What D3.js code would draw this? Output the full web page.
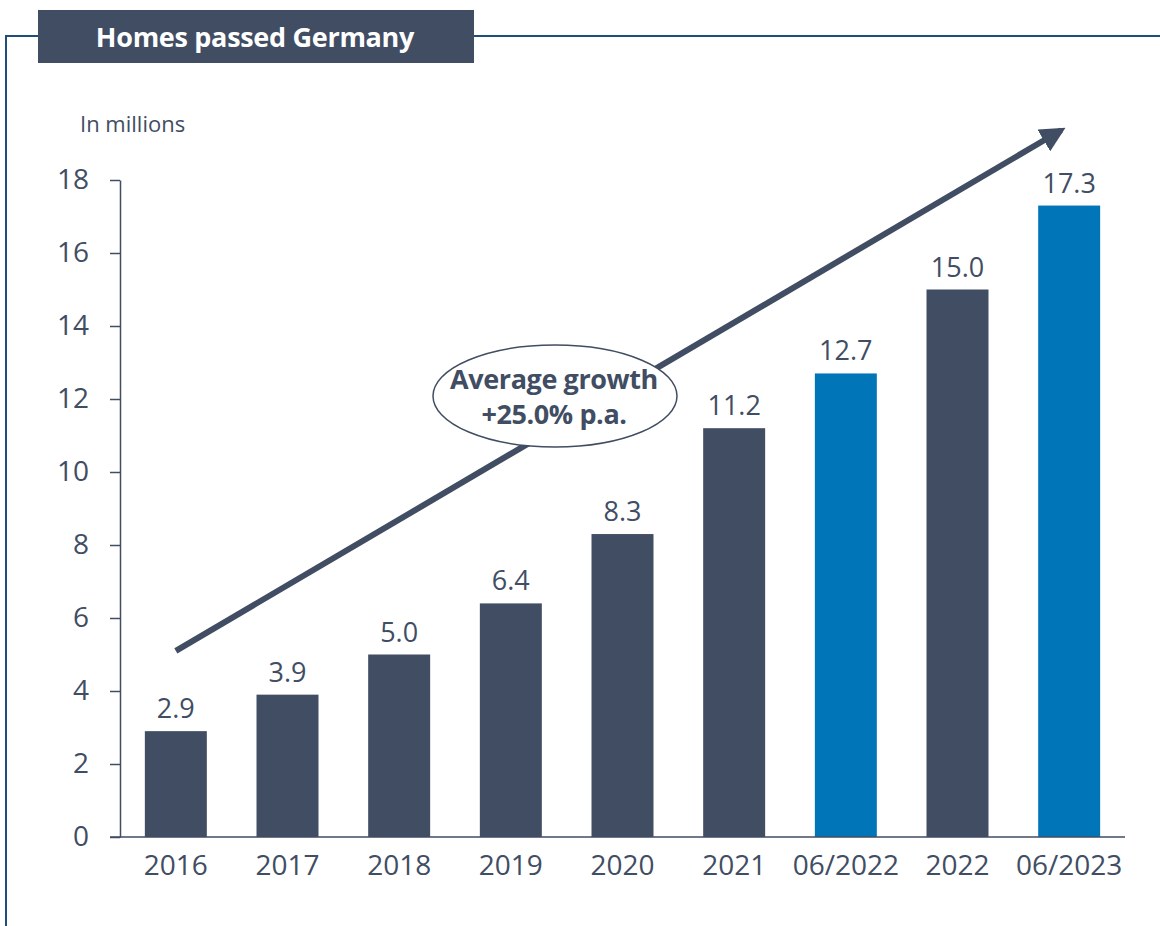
<!DOCTYPE html>
<html>
<head>
<meta charset="utf-8">
<script src="https://cdn.jsdelivr.net/npm/d3@7"></script>
<style>
html,body{margin:0;padding:0;background:#fff;}
svg{display:block;font-family:"Open Sans",Lato,sans-serif;}
</style>
</head>
<body>
<svg id="chart" width="1160" height="926"></svg>
<script>
const categories = ["2016","2017","2018","2019","2020","2021","06/2022","2022","06/2023"];
const values = [2.9,3.9,5.0,6.4,8.3,11.2,12.7,15.0,17.3];
const highlight = [false,false,false,false,false,false,true,false,true];
const yTicks = [0,2,4,6,8,10,12,14,16,18];
const title = "Homes passed Germany";
const unitLabel = "In millions";
const growthText = ["Average growth","+25.0% p.a."];
const arrowFrom = {cat:"2016", v:5.1};
const arrowTo = {cat:"06/2023", v:19.5};

const dark = "#414d63", blue = "#0075b8", frame = "#1f4e79";
const FONT = "'Open Sans',Lato,sans-serif";
const svg = d3.select("#chart");

const x = d3.scaleBand().domain(categories).range([120,1125]).paddingInner(0.445).paddingOuter(0.2225);
const y = d3.scaleLinear().domain([0,18]).range([837,180]);

// frame
svg.append("line").attr("x1",6).attr("x2",1160).attr("y1",36).attr("y2",36).attr("stroke",frame).attr("stroke-width",2);
svg.append("line").attr("x1",6).attr("x2",6).attr("y1",35).attr("y2",926).attr("stroke",frame).attr("stroke-width",2);
svg.append("rect").attr("x",38).attr("y",10).attr("width",436).attr("height",53).attr("fill",dark);
svg.append("text").attr("x",255).attr("y",47).attr("text-anchor","middle").attr("fill","#fff")
  .attr("font-size",27).attr("font-weight","bold").attr("letter-spacing",-0.3).text(title);
svg.append("text").attr("x",80).attr("y",132).attr("fill",dark).attr("font-size",22).text(unitLabel);

// bars
svg.append("g").selectAll("rect").data(values).join("rect")
  .attr("x",(d,i)=>x(categories[i])).attr("width",x.bandwidth())
  .attr("y",d=>y(d)).attr("height",d=>y(0)-y(d))
  .attr("fill",(d,i)=>highlight[i]?blue:dark);
svg.append("g").selectAll("text").data(values).join("text")
  .attr("x",(d,i)=>x(categories[i])+x.bandwidth()/2).attr("y",d=>y(d)-13)
  .attr("text-anchor","middle").attr("fill",dark).attr("font-size",27)
  .text(d=>d.toFixed(1));

// y axis
const yAxis = svg.append("g").attr("transform","translate(120,0)")
  .call(d3.axisLeft(y).tickValues(yTicks).tickSize(10).tickPadding(21).tickSizeOuter(0));
yAxis.select(".domain").attr("stroke",dark).attr("stroke-width",1.5);
yAxis.selectAll(".tick line").attr("stroke",dark).attr("stroke-width",1.5);
yAxis.selectAll(".tick text").attr("fill",dark).attr("font-size",28).attr("font-family",FONT);

// x axis
const xAxis = svg.append("g").attr("transform","translate(0,837)")
  .call(d3.axisBottom(x).tickSize(0).tickPadding(18));
xAxis.select(".domain").attr("stroke",dark).attr("stroke-width",1.5).attr("d","M110,0H1125");
xAxis.selectAll(".tick text").attr("fill",dark).attr("font-size",28).attr("font-family",FONT);

// arrow
const defs = svg.append("defs");
defs.append("marker").attr("id","ah").attr("viewBox","0 0 10 10").attr("refX",8).attr("refY",5)
  .attr("markerWidth",4.2).attr("markerHeight",4.2).attr("orient","auto").attr("markerUnits","strokeWidth")
  .append("path").attr("d","M0,0L10,5L0,10z").attr("fill",dark);
const ax1 = x(arrowFrom.cat)+x.bandwidth()/2, ay1 = y(arrowFrom.v);
const ax2 = x(arrowTo.cat)+x.bandwidth()/2, ay2 = y(arrowTo.v);
svg.append("line").attr("x1",ax1).attr("y1",ay1).attr("x2",ax2-8).attr("y2",ay2+5)
  .attr("stroke",dark).attr("stroke-width",6).attr("marker-end","url(#ah)");

// ellipse annotation
svg.append("ellipse").attr("cx",555).attr("cy",396).attr("rx",122).attr("ry",51)
  .attr("fill","#fff").attr("stroke",dark).attr("stroke-width",1.5);
svg.append("text").attr("x",554).attr("y",389).attr("text-anchor","middle").attr("fill",dark)
  .attr("font-size",27).attr("font-weight","bold").attr("letter-spacing",-0.4).text(growthText[0]);
svg.append("text").attr("x",554).attr("y",424).attr("text-anchor","middle").attr("fill",dark)
  .attr("font-size",27).attr("font-weight","bold").attr("letter-spacing",-0.4).text(growthText[1]);
</script>
</body>
</html>
